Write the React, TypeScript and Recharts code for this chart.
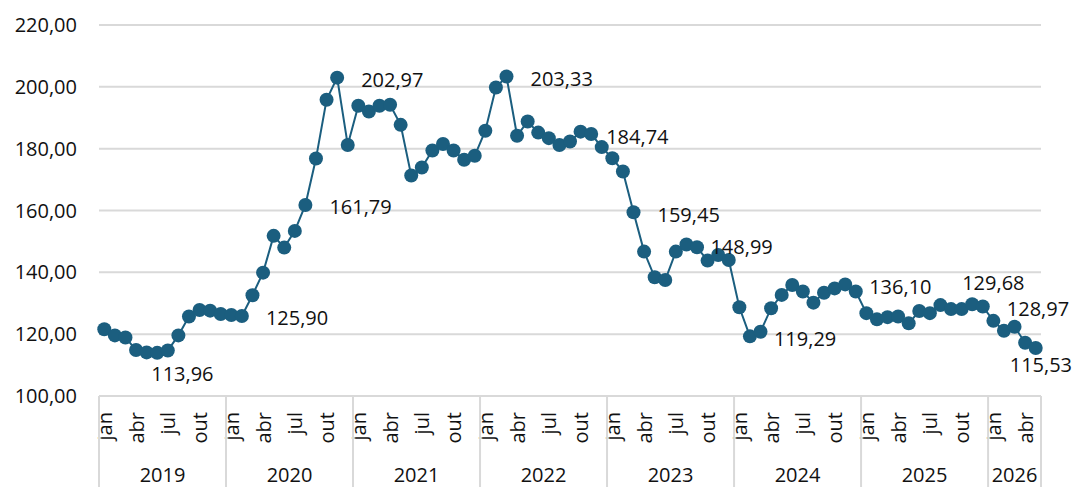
import React from 'react';
import {
  LineChart,
  Line,
  XAxis,
  YAxis,
  CartesianGrid,
  LabelList
} from 'recharts';

// monthly index values, jan/2019 .. mai/2026
const years = ['2019', '2020', '2021', '2022', '2023', '2024', '2025', '2026'];
const monthNames = ['jan', 'fev', 'mar', 'abr', 'mai', 'jun', 'jul', 'ago', 'set', 'out', 'nov', 'dez'];
const shownMonths = ['jan', 'abr', 'jul', 'out'];

const values2019 = [121.6, 119.6, 118.9, 114.9, 114.1, 113.96, 114.7, 119.6, 125.7, 127.8, 127.6, 126.5];
const values2020 = [126.2, 125.9, 132.6, 139.9, 151.8, 148.0, 153.4, 161.79, 176.8, 195.8, 202.97, 181.2];
const values2021 = [193.9, 192.0, 193.9, 194.2, 187.7, 171.3, 173.9, 179.4, 181.5, 179.4, 176.4, 177.7];
const values2022 = [185.8, 199.8, 203.33, 184.2, 188.8, 185.2, 183.4, 181.2, 182.3, 185.5, 184.74, 180.5];
const values2023 = [176.9, 172.6, 159.45, 146.7, 138.4, 137.5, 146.7, 148.99, 148.1, 143.8, 145.6, 144.0];
const values2024 = [128.7, 119.29, 120.8, 128.4, 132.7, 135.9, 133.8, 130.2, 133.4, 134.8, 136.1, 133.8];
const values2025 = [126.8, 124.8, 125.5, 125.7, 123.5, 127.5, 126.8, 129.4, 128.1, 128.1, 129.68, 128.97];
const values2026 = [124.3, 121.1, 122.4, 117.2, 115.53];

const valuesByYear = [values2019, values2020, values2021, values2022, values2023, values2024, values2025, values2026];

// points that carry a data label (index into the monthly series)
const labelledPoints = [5, 13, 19, 22, 38, 46, 50, 55, 61, 70, 82, 83, 88];

const yTicks = [100, 120, 140, 160, 180, 200, 220];

const data = valuesByYear.flatMap((vals, y) =>
  vals.map((v, m) => ({ idx: y * 12 + m, year: years[y], month: monthNames[m], value: v }))
);

const WIDTH = 1078;
const HEIGHT = 487;
const MARGIN = { top: 25, right: 37, left: 0, bottom: 0 };
const Y_AXIS_W = 99;
const X_AXIS_H = 91;
const PLOT_W = WIDTH - MARGIN.left - MARGIN.right - Y_AXIS_W;
const STEP = PLOT_W / data.length;

const COLOR = '#1b5e7f';
const GRID = '#d9d9d9';
const FONT = '"Open Sans", sans-serif';

const fmt = (v: number) => v.toFixed(2).replace('.', ',');

// label placement: offset from point centre to the text's left edge / middle
const labelOffset = (i: number) => {
  if (i === 5) return { dx: -6, dy: 21 };
  if (i === 46) return { dx: 15, dy: 2 };
  if (i === 82) return { dx: -10, dy: -22 };
  if (i === 88) return { dx: -26, dy: 17 };
  return { dx: 24, dy: 2 };
};

const PointLabel = (props: any) => {
  const { x, y, index, value } = props;
  if (!labelledPoints.includes(index)) return null;
  const { dx, dy } = labelOffset(index);
  return (
    <text
      x={x + dx}
      y={y + dy}
      fill="#111"
      fontSize={20}
      fontFamily={FONT}
      textAnchor="start"
      dominantBaseline="central"
    >
      {fmt(value)}
    </text>
  );
};

const MonthYearTick = (props: any) => {
  const { x, y, payload } = props;
  const row = data[payload.value];
  if (!row) return null;
  const m = payload.value % 12;
  const isLast = payload.value === data.length - 1;
  const yearIdx = Math.floor(payload.value / 12);
  const monthsInYear = valuesByYear[yearIdx].length;
  const bandStart = x - STEP / 2;
  return (
    <g>
      {shownMonths.includes(row.month) && (
        <text
          x={x}
          y={y + 16}
          transform={`rotate(-90 ${x} ${y + 16})`}
          textAnchor="end"
          dominantBaseline="central"
          fontSize={20}
          fontFamily={FONT}
          fill="#111"
        >
          {row.month}
        </text>
      )}
      {m === 0 && (
        <>
          <line x1={bandStart} x2={bandStart} y1={y} y2={HEIGHT} stroke={GRID} strokeWidth={2} />
          <text
            x={bandStart + (monthsInYear * STEP) / 2}
            y={y + 78}
            textAnchor="middle"
            dominantBaseline="central"
            fontSize={20}
            fontFamily={FONT}
            fill="#111"
          >
            {row.year}
          </text>
        </>
      )}
      {isLast && (
        <line x1={x + STEP / 2} x2={x + STEP / 2} y1={y} y2={HEIGHT} stroke={GRID} strokeWidth={2} />
      )}
    </g>
  );
};

export default function App() {
  return (
    <div style={{ position: 'absolute', left: 0, top: 0, background: '#fff' }}>
      <LineChart width={WIDTH} height={HEIGHT} data={data} margin={MARGIN}>
        <CartesianGrid vertical={false} stroke={GRID} strokeWidth={2} />
        <XAxis
          dataKey="idx"
          type="category"
          height={X_AXIS_H}
          interval={0}
          tickLine={false}
          tickSize={0}
          tickMargin={0}
          axisLine={{ stroke: GRID, strokeWidth: 2 }}
          padding={{ left: STEP / 2, right: STEP / 2 }}
          tick={<MonthYearTick />}
        />
        <YAxis
          width={Y_AXIS_W}
          domain={[100, 220]}
          ticks={yTicks}
          axisLine={false}
          tickLine={false}
          tickSize={0}
          tickMargin={22}
          tickFormatter={fmt}
          tick={{ fill: '#111', fontSize: 20, fontFamily: FONT }}
        />
        <Line
          type="linear"
          dataKey="value"
          stroke={COLOR}
          strokeWidth={2}
          dot={{ r: 7, fill: COLOR, stroke: 'none' }}
          activeDot={false}
          isAnimationActive={false}
        >
          <LabelList dataKey="value" content={<PointLabel />} />
        </Line>
      </LineChart>
    </div>
  );
}
